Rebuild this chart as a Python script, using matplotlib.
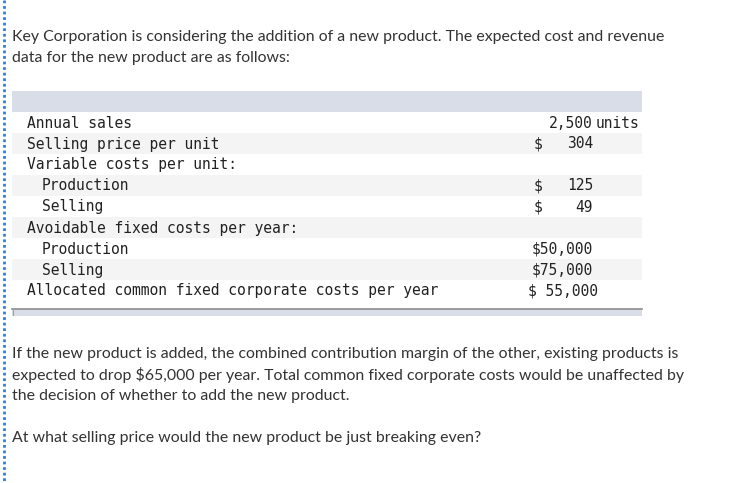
import matplotlib.pyplot as plt
from matplotlib.patches import Rectangle

intro = ["Key Corporation is considering the addition of a new product. The expected cost and revenue",
         "data for the new product are as follows:"]

row_labels = ["Annual sales", "Selling price per unit", "Variable costs per unit:",
              "Production", "Selling", "Avoidable fixed costs per year:",
              "Production", "Selling", "Allocated common fixed corporate costs per year"]
row_indent = [0, 0, 0, 1, 1, 0, 1, 1, 0]
row_values = ["2,500", "304", "", "125", "49", "", "$50,000", "$75,000", "$ 55,000"]
row_dollar = [False, True, False, True, True, False, False, False, False]
row_unit = ["units", "", "", "", "", "", "", "", ""]

outro = ["If the new product is added, the combined contribution margin of the other, existing products is",
         "expected to drop $65,000 per year. Total common fixed corporate costs would be unaffected by",
         "the decision of whether to add the new product.",
         "",
         "At what selling price would the new product be just breaking even?"]

fig = plt.figure(figsize=(7.32, 4.83), dpi=100)
ax = fig.add_axes([0, 0, 1, 1])
ax.set_xlim(0, 732)
ax.set_ylim(483, 0)
ax.axis('off')

txt_color = '#333333'
body_font = ['Lato', 'DejaVu Sans']
mono_font = ['DejaVu Sans Mono']
mono_size = 10.55
body_size = 11.4

# left dotted rule
ax.plot([4, 4], [0, 483], color='#3a7bd5', lw=2, linestyle=(0, (1, 1)))

for i, line in enumerate(intro):
    ax.text(12, 37 + i * 21, line, family=body_font, fontsize=body_size, color=txt_color, va='center')

# table
left, right = 12, 642
ax.add_patch(Rectangle((left, 91), right - left, 21, color='#d9dde8', lw=0))
row_h = 21
top = 112
for i, label in enumerate(row_labels):
    y0 = top + i * row_h
    if i % 2 == 1:
        ax.add_patch(Rectangle((left, y0), right - left, row_h, color='#f4f4f4', lw=0))
    yc = y0 + row_h / 2 + 0.5
    ax.text(27 + 15 * row_indent[i], yc, label, family=mono_font, fontsize=mono_size,
            color='#222222', va='center')
    if row_dollar[i]:
        ax.text(534, yc, "$", family=mono_font, fontsize=mono_size, color='#222222', va='center')
    if row_values[i]:
        xr = 598 if row_values[i].startswith("$ ") else 593
        ax.text(xr, yc, row_values[i], family=mono_font, fontsize=mono_size, color='#222222',
                va='center', ha='right')
    if row_unit[i]:
        ax.text(596, yc, row_unit[i], family=mono_font, fontsize=mono_size, color='#222222', va='center')

ax.add_patch(Rectangle((left, 309), right - left, 7, color='#d9dde8', lw=0))
ax.plot([left, right], [309, 309], color='#8c8c8c', lw=1.2)
ax.plot([left + 0.5, left + 0.5], [309, 315], color='#a0a0a0', lw=0.8)

for i, line in enumerate(outro):
    ax.text(12, 354 + i * 21, line, family=body_font, fontsize=body_size, color=txt_color, va='center')

fig.savefig('out.png', dpi=100)
